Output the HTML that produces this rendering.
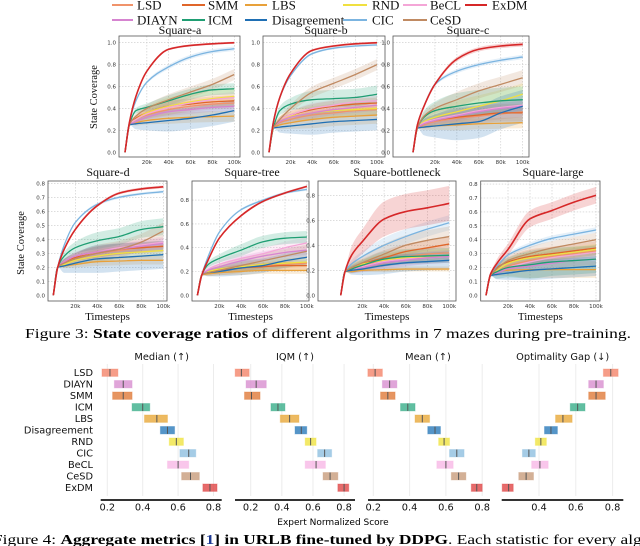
<!DOCTYPE html>
<html><head><meta charset="utf-8">
<style>
html,body{margin:0;padding:0;background:#fff;}
svg{display:block;}
.serif{font-family:'Liberation Serif','Times New Roman',Times,serif;}
.sans{font-family:'DejaVu Sans','Liberation Sans',sans-serif;}
</style></head>
<body>
<svg id="fig" width="640" height="546" viewBox="0 0 640 546" xmlns="http://www.w3.org/2000/svg">
<g id="legend"></g>
<g id="panels"></g>
<text class="serif" x="25" y="338" font-size="14" textLength="606" lengthAdjust="spacingAndGlyphs">Figure 3:  <tspan font-weight="bold">State coverage ratios</tspan> of different algorithms in 7 mazes during pre-training.</text>
<g id="agg"></g>
<text class="sans" x="333" y="525" font-size="9" text-anchor="middle">Expert Normalized Score</text>
<text class="serif" x="-7" y="544" font-size="14" textLength="668" lengthAdjust="spacingAndGlyphs">Figure 4:  <tspan font-weight="bold">Aggregate metrics [<tspan fill="#1f3a93">1</tspan>] in URLB fine-tuned by DDPG</tspan>. Each statistic for every algori</text>
</svg>
<script>
// ---------- data ----------
const seriesNames = ["LSD","SMM","LBS","RND","BeCL","DIAYN","ICM","Disagreement","CIC","CeSD","ExDM"];
const seriesColors = ["#f0936b","#e0662a","#e8a13a","#f0e040","#f4a6d7","#d684d0","#1f9e73","#1f6fb4","#7bb4e0","#c08a62","#d62728"];
const xSteps = [0,4,10,20,40,60,80,100];

const aLSD=[0,0.25,0.30,0.34,0.39,0.42,0.44,0.45], aSMM=[0,0.25,0.31,0.36,0.42,0.44,0.46,0.47], aLBS=[0,0.25,0.27,0.29,0.31,0.32,0.325,0.33], aRND=[0,0.25,0.30,0.36,0.42,0.46,0.49,0.51], aBeCL=[0,0.25,0.30,0.35,0.41,0.45,0.48,0.50], aDIAYN=[0,0.25,0.28,0.32,0.37,0.39,0.41,0.42], aICM=[0,0.25,0.38,0.41,0.47,0.53,0.57,0.58], aDis=[0,0.25,0.26,0.27,0.29,0.31,0.34,0.38], aCIC=[0,0.27,0.47,0.64,0.78,0.87,0.92,0.945], aCeSD=[0,0.25,0.33,0.40,0.48,0.55,0.62,0.71], aExDM=[0,0.27,0.51,0.74,0.94,0.975,0.99,1.0];
const aSpread=[0.05,0.05,0.05,0.08,0.05,0.04,0.05,0.1,0.02,0.05,0.01];

const bLSD=[0,0.22,0.27,0.30,0.34,0.36,0.38,0.39], bSMM=[0,0.22,0.30,0.34,0.39,0.42,0.44,0.45], bLBS=[0,0.22,0.25,0.27,0.30,0.32,0.33,0.34], bRND=[0,0.22,0.30,0.33,0.36,0.38,0.39,0.40], bBeCL=[0,0.22,0.30,0.34,0.40,0.43,0.46,0.47], bDIAYN=[0,0.22,0.28,0.32,0.36,0.39,0.41,0.43], bICM=[0,0.22,0.38,0.44,0.48,0.49,0.50,0.53], bDis=[0,0.22,0.23,0.24,0.26,0.28,0.29,0.30], bCIC=[0,0.28,0.50,0.70,0.90,0.95,0.97,0.98], bCeSD=[0,0.22,0.30,0.40,0.55,0.63,0.71,0.80], bExDM=[0,0.27,0.50,0.72,0.93,0.97,0.99,1.0];
const bSpread=[0.05,0.05,0.08,0.06,0.05,0.05,0.08,0.1,0.01,0.05,0.01];

const cLSD=[0,0.22,0.25,0.28,0.31,0.33,0.35,0.37], cSMM=[0,0.22,0.26,0.29,0.32,0.34,0.36,0.36], cLBS=[0,0.22,0.23,0.24,0.25,0.26,0.265,0.27], cRND=[0,0.22,0.28,0.32,0.37,0.42,0.47,0.53], cBeCL=[0,0.22,0.27,0.30,0.34,0.38,0.41,0.43], cDIAYN=[0,0.22,0.26,0.29,0.33,0.37,0.40,0.42], cICM=[0,0.22,0.32,0.38,0.42,0.45,0.47,0.48], cDis=[0,0.22,0.23,0.24,0.26,0.28,0.36,0.42], cCIC=[0,0.25,0.42,0.62,0.74,0.80,0.84,0.87], cCeSD=[0,0.22,0.33,0.40,0.48,0.56,0.62,0.68], cExDM=[0,0.25,0.42,0.62,0.85,0.94,0.97,0.985];
const cSpread=[0.05,0.08,0.05,0.1,0.05,0.05,0.12,0.15,0.02,0.07,0.02];

const dLSD=[0,0.2,0.23,0.26,0.30,0.32,0.34,0.35], dSMM=[0,0.2,0.24,0.27,0.31,0.33,0.34,0.35], dLBS=[0,0.2,0.21,0.22,0.24,0.245,0.25,0.25], dRND=[0,0.2,0.22,0.25,0.28,0.30,0.31,0.32], dBeCL=[0,0.2,0.24,0.28,0.31,0.34,0.36,0.38], dDIAYN=[0,0.2,0.24,0.28,0.31,0.33,0.35,0.37], dICM=[0,0.2,0.28,0.34,0.39,0.42,0.47,0.49], dDis=[0,0.2,0.21,0.23,0.26,0.27,0.28,0.29], dCIC=[0,0.2,0.36,0.52,0.65,0.70,0.725,0.74], dCeSD=[0,0.2,0.23,0.26,0.30,0.33,0.38,0.46], dExDM=[0,0.2,0.33,0.47,0.64,0.73,0.76,0.775];
const dSpread=[0.03,0.04,0.03,0.04,0.04,0.04,0.06,0.1,0.01,0.06,0.01];

const tLSD=[0,0.17,0.19,0.21,0.23,0.25,0.26,0.27], tSMM=[0,0.17,0.19,0.21,0.23,0.24,0.25,0.25], tLBS=[0,0.17,0.18,0.19,0.20,0.21,0.21,0.21], tRND=[0,0.17,0.20,0.22,0.24,0.26,0.27,0.28], tBeCL=[0,0.17,0.22,0.26,0.31,0.35,0.40,0.44], tDIAYN=[0,0.17,0.21,0.24,0.29,0.33,0.36,0.38], tICM=[0,0.17,0.26,0.31,0.38,0.45,0.48,0.49], tDis=[0,0.17,0.19,0.20,0.23,0.25,0.29,0.32], tCIC=[0,0.17,0.33,0.53,0.72,0.80,0.86,0.89], tCeSD=[0,0.17,0.19,0.21,0.25,0.29,0.33,0.37], tExDM=[0,0.17,0.30,0.48,0.67,0.79,0.86,0.915];
const tSpread=[0.03,0.03,0.03,0.04,0.05,0.04,0.05,0.06,0.01,0.06,0.01];

const nLSD=[0,0.19,0.21,0.24,0.28,0.31,0.33,0.34], nSMM=[0,0.19,0.22,0.25,0.30,0.35,0.38,0.41], nLBS=[0,0.19,0.19,0.20,0.205,0.21,0.21,0.21], nRND=[0,0.19,0.22,0.25,0.28,0.30,0.31,0.32], nBeCL=[0,0.19,0.21,0.23,0.27,0.29,0.30,0.31], nDIAYN=[0,0.19,0.20,0.22,0.26,0.28,0.30,0.31], nICM=[0,0.19,0.21,0.24,0.29,0.31,0.315,0.32], nDis=[0,0.19,0.20,0.21,0.24,0.26,0.27,0.28], nCIC=[0,0.19,0.25,0.31,0.40,0.47,0.53,0.58], nCeSD=[0,0.19,0.22,0.26,0.33,0.40,0.44,0.47], nExDM=[0,0.19,0.32,0.43,0.61,0.67,0.70,0.735];
const nSpread=[0.05,0.06,0.02,0.05,0.05,0.05,0.06,0.07,0.06,0.08,0.14];

const lLSD=[0,0.14,0.17,0.21,0.25,0.28,0.30,0.32], lSMM=[0,0.14,0.20,0.24,0.28,0.30,0.32,0.34], lLBS=[0,0.14,0.17,0.18,0.185,0.185,0.185,0.185], lRND=[0,0.14,0.18,0.23,0.27,0.29,0.31,0.33], lBeCL=[0,0.14,0.17,0.20,0.24,0.27,0.29,0.31], lDIAYN=[0,0.14,0.16,0.19,0.21,0.23,0.25,0.26], lICM=[0,0.14,0.17,0.20,0.22,0.24,0.25,0.26], lDis=[0,0.14,0.15,0.16,0.18,0.19,0.20,0.21], lCIC=[0,0.15,0.21,0.29,0.36,0.41,0.44,0.47], lCeSD=[0,0.14,0.19,0.25,0.30,0.34,0.37,0.40], lExDM=[0,0.15,0.23,0.33,0.55,0.61,0.67,0.72];
const lSpread=[0.04,0.05,0.06,0.04,0.04,0.04,0.1,0.07,0.02,0.05,0.06];

const xTickLabels = ["20k","40k","60k","80k","100k"];
const xTickValues = [20,40,60,80,100];

const algNames = ["LSD","DIAYN","SMM","ICM","LBS","Disagreement","RND","CIC","BeCL","CeSD","ExDM"];
const algColors = ["#f4846a","#d88fd0","#e07b39","#3aae8a","#e8a93a","#2b7bba","#f0e442","#8fbfe0","#f8b8e6","#c89c7c","#e04646"];
const medianLo=[0.17,0.24,0.23,0.34,0.41,0.50,0.55,0.61,0.54,0.62,0.74], medianMid=[0.215,0.29,0.29,0.40,0.48,0.54,0.59,0.66,0.60,0.67,0.78], medianHi=[0.26,0.34,0.34,0.44,0.54,0.58,0.63,0.70,0.66,0.72,0.82];
const iqmLo=[0.10,0.17,0.16,0.33,0.39,0.485,0.55,0.63,0.55,0.665,0.76], iqmMid=[0.14,0.235,0.205,0.375,0.45,0.525,0.585,0.675,0.62,0.71,0.80], iqmHi=[0.19,0.30,0.26,0.42,0.51,0.56,0.62,0.72,0.68,0.76,0.83];
const meanLo=[0.17,0.25,0.24,0.35,0.43,0.50,0.56,0.62,0.55,0.63,0.74], meanMid=[0.21,0.29,0.28,0.39,0.47,0.54,0.59,0.66,0.60,0.67,0.77], meanHi=[0.25,0.33,0.32,0.43,0.51,0.57,0.62,0.70,0.64,0.71,0.80];
const ogLo=[0.75,0.67,0.67,0.57,0.49,0.43,0.38,0.31,0.36,0.29,0.20], ogMid=[0.79,0.71,0.71,0.61,0.53,0.465,0.41,0.345,0.405,0.33,0.235], ogHi=[0.83,0.75,0.76,0.65,0.58,0.50,0.44,0.38,0.45,0.37,0.26];

// ---------- helpers ----------
const NS="http://www.w3.org/2000/svg";
function mk(tag, attrs, parent){const e=document.createElementNS(NS,tag);for(const k in attrs)e.setAttribute(k,attrs[k]);parent.appendChild(e);return e;}
function monoSeg(pts){
  const n=pts.length, dx=[], m=[], t=new Array(n);
  for(let i=0;i<n-1;i++){dx.push(pts[i+1][0]-pts[i][0]);m.push((pts[i+1][1]-pts[i][1])/dx[i]);}
  t[0]=m[0];t[n-1]=m[n-2];
  for(let i=1;i<n-1;i++){t[i]=(m[i-1]*m[i]<=0)?0:(dx[i-1]+dx[i])*3/((2*dx[i]+dx[i-1])/m[i-1]+(dx[i]+2*dx[i-1])/m[i]);}
  let d="";
  for(let i=0;i<n-1;i++){
    const h=dx[i]/3;
    d+=" C"+(pts[i][0]+h).toFixed(2)+","+(pts[i][1]+t[i]*h).toFixed(2)+" "+(pts[i+1][0]-h).toFixed(2)+","+(pts[i+1][1]-t[i+1]*h).toFixed(2)+" "+pts[i+1][0].toFixed(2)+","+pts[i+1][1].toFixed(2);
  }
  return d;
}
function monoPath(pts){return "M"+pts[0][0].toFixed(2)+","+pts[0][1].toFixed(2)+monoSeg(pts);}
function monoPathRev(pts){
  const neg=pts.map(p=>[-p[0],p[1]]);
  const seg=monoSeg(neg);
  return seg.replace(/(-?\d+\.?\d*),(-?\d+\.?\d*)/g,(s,a,b)=>(-parseFloat(a)).toFixed(2)+","+b);
}

// ---------- legend ----------
const legendRows=[["LSD","SMM","LBS","RND","BeCL","ExDM"],["DIAYN","ICM","Disagreement","CIC","CeSD"]];
const legendCols=[[112,133,137],[182,205,208],[245,267,272],[343,367,372],[403,427,430],[465,487,492]];
const lg=document.getElementById("legend");
legendRows.forEach((row,ri)=>{
  const y=ri===0?5:20;
  row.forEach((nm,ci)=>{
    const col=seriesColors[seriesNames.indexOf(nm)];
    const c=legendCols[ci];
    const g=mk("g",{},lg);
    
    
    mk("line",{x1:c[0],x2:c[1],y1:y,y2:y,stroke:col,"stroke-width":2},g);
    const t=mk("text",{x:c[2],y:y+4.5,"font-size":13,class:"serif",fill:"#111"},g);
    t.textContent=nm;
  });
});

// ---------- line panels ----------
const panels=[
 {name:"square-a",title:"Square-a",tx:180,ty:34,x0:125,x100:234.3,y0:152.3,ppu:109.6,fl:119,fr:240,ft:36,fb:157,yt:[0,0.2,0.4,0.6,0.8,1.0],ylab:true,xlab:false,data:[aLSD,aSMM,aLBS,aRND,aBeCL,aDIAYN,aICM,aDis,aCIC,aCeSD,aExDM],spread:aSpread,ylx:97,yly:97},
 {name:"square-b",title:"Square-b",tx:326,ty:34,x0:269,x100:377,y0:152.3,ppu:109.6,fl:263,fr:385,ft:36,fb:157,yt:[0,0.2,0.4,0.6,0.8,1.0],xlab:false,data:[bLSD,bSMM,bLBS,bRND,bBeCL,bDIAYN,bICM,bDis,bCIC,bCeSD,bExDM],spread:bSpread},
 {name:"square-c",title:"Square-c",tx:468,ty:34,x0:413,x100:522.7,y0:152.3,ppu:109.6,fl:393,fr:529,ft:36,fb:157,yt:[0,0.2,0.4,0.6,0.8,1.0],xlab:false,data:[cLSD,cSMM,cLBS,cRND,cBeCL,cDIAYN,cICM,cDis,cCIC,cCeSD,cExDM],spread:cSpread},
 {name:"square-d",title:"Square-d",tx:108,ty:176,x0:53.3,x100:163.3,y0:295.3,ppu:140,fl:48,fr:167,ft:181,fb:301,yt:[0,0.1,0.2,0.3,0.4,0.5,0.6,0.7,0.8],ylab:true,xlab:true,data:[dLSD,dSMM,dLBS,dRND,dBeCL,dDIAYN,dICM,dDis,dCIC,dCeSD,dExDM],spread:dSpread,ylx:24,yly:243},
 {name:"square-tree",title:"Square-tree",tx:252,ty:176,x0:197.4,x100:306.9,y0:295.3,ppu:119,fl:192,fr:309,ft:181,fb:301,yt:[0,0.2,0.4,0.6,0.8],xlab:true,data:[tLSD,tSMM,tLBS,tRND,tBeCL,tDIAYN,tICM,tDis,tCIC,tCeSD,tExDM],spread:tSpread},
 {name:"square-bottleneck",title:"Square-bottleneck",tx:397,ty:176,x0:340.7,x100:449.2,y0:295.3,ppu:125,fl:318,fr:456,ft:181,fb:301,yt:[0,0.2,0.4,0.6,0.8],xlab:true,data:[nLSD,nSMM,nLBS,nRND,nBeCL,nDIAYN,nICM,nDis,nCIC,nCeSD,nExDM],spread:nSpread},
 {name:"square-large",title:"Square-large",tx:553,ty:176,x0:486,x100:596,y0:295.3,ppu:139,fl:480.7,fr:600,ft:181,fb:301,yt:[0,0.1,0.2,0.3,0.4,0.5,0.6,0.7,0.8],xlab:true,data:[lLSD,lSMM,lLBS,lRND,lBeCL,lDIAYN,lICM,lDis,lCIC,lCeSD,lExDM],spread:lSpread}
];
const pg=document.getElementById("panels");
panels.forEach(p=>{
  const g=mk("g",{},pg);
  
  
  const sx=v=>p.x0+(p.x100-p.x0)*v/100;
  const sy=v=>p.y0-p.ppu*v;
  mk("rect",{x:p.fl,y:p.ft,width:p.fr-p.fl,height:p.fb-p.ft,fill:"#fff"},g);
  p.yt.forEach(v=>{
    if(v===0)return;
    mk("line",{x1:p.fl,x2:p.fr,y1:sy(v),y2:sy(v),stroke:"#c8c8c8","stroke-width":0.6,"stroke-dasharray":"1.5,1.5"},g);
  });
  xTickValues.forEach(v=>{
    mk("line",{x1:sx(v),x2:sx(v),y1:p.ft,y2:p.fb,stroke:"#c8c8c8","stroke-width":0.6,"stroke-dasharray":"1.5,1.5"},g);
  });
  p.data.forEach((arr,si)=>{
    const up=[],lo=[];
    arr.forEach((v,i)=>{const s=i<2?0:p.spread[si]*Math.min(1,xSteps[i]/50+0.3);up.push([sx(xSteps[i]),sy(v+s)]);lo.push([sx(xSteps[i]),sy(Math.max(0,v-s))]);});
    const d=monoPath(up)+" L"+lo[lo.length-1][0].toFixed(2)+","+lo[lo.length-1][1].toFixed(2)+monoPathRev(lo.slice().reverse())+" Z";
    const b=mk("path",{d:d,fill:seriesColors[si],"fill-opacity":0.2,stroke:"none"},g);
    
    
  });
  p.data.forEach((arr,si)=>{
    const pts=arr.map((v,i)=>[sx(xSteps[i]),sy(v)]);
    const l=mk("path",{d:monoPath(pts),fill:"none",stroke:seriesColors[si],"stroke-width":si===10?1.6:1.3},g);
    
    
  });
  mk("rect",{x:p.fl,y:p.ft,width:p.fr-p.fl,height:p.fb-p.ft,fill:"none",stroke:"#555","stroke-width":0.8},g);
  p.yt.forEach(v=>{
    const t=mk("text",{x:p.fl-3,y:sy(v)+2,"font-size":5.5,"text-anchor":"end",class:"sans",fill:"#333"},g);
    
    
    t.textContent=v.toFixed(1);
  });
  xTickValues.forEach((v,i)=>{
    const t=mk("text",{x:sx(v),y:p.fb+7,"font-size":5.5,"text-anchor":"middle",class:"sans",fill:"#333"},g);
    
    
    t.textContent=xTickLabels[i];
  });
  const tt=mk("text",{x:p.tx,y:p.ty,"font-size":12,"text-anchor":"middle",class:"serif",fill:"#111"},g);
  
  
  tt.textContent=p.title;
  if(p.xlab){
    const xl=mk("text",{x:(p.fl+p.fr)/2,y:320,"font-size":11,"text-anchor":"middle",class:"serif",fill:"#111"},g);
    
    
    xl.textContent="Timesteps";
  }
  if(p.ylab){
    const yl=mk("text",{x:p.ylx,y:p.yly,"font-size":10.5,"text-anchor":"middle",class:"serif",fill:"#111",transform:"rotate(-90 "+p.ylx+" "+p.yly+")"},g);
    
    
    yl.textContent="State Coverage";
  }
});

// ---------- aggregate metrics ----------
const metrics=[
 {name:"median",title:"Median (↑)",tx:161.7,zero:71.9,ppu:177,sl:100.7,sr:221.7,ticks:[0.2,0.4,0.6,0.8],lo:medianLo,mid:medianMid,hi:medianHi},
 {name:"iqm",title:"IQM (↑)",tx:295,zero:219.6,ppu:155.6,sl:235,sr:355,ticks:[0.2,0.4,0.6,0.8],lo:iqmLo,mid:iqmMid,hi:iqmHi},
 {name:"mean",title:"Mean (↑)",tx:428,zero:337,ppu:181.5,sl:368,sr:490,ticks:[0.2,0.4,0.6,0.8],lo:meanLo,mid:meanMid,hi:meanHi},
 {name:"optimality-gap",title:"Optimality Gap (↓)",tx:562.7,zero:465.4,ppu:184,sl:501.7,sr:623.3,ticks:[0.4,0.6,0.8],lo:ogLo,mid:ogMid,hi:ogHi}
];
const ag=document.getElementById("agg");
const rowY=i=>372.7+i*11.5;
algNames.forEach((nm,i)=>{
  const t=mk("text",{x:93,y:rowY(i)+3.5,"font-size":9.8,"text-anchor":"end",class:"sans",fill:"#111"},ag);
  
  
  t.textContent=nm;
});
metrics.forEach(m=>{
  const g=mk("g",{},ag);
  
  
  const sx=v=>m.zero+m.ppu*v;
  m.ticks.forEach(v=>{
    mk("line",{x1:sx(v),x2:sx(v),y1:364,y2:496,stroke:"#ececec","stroke-width":1},g);
    const t=mk("text",{x:sx(v),y:510.5,"font-size":9.8,"text-anchor":"middle",class:"sans",fill:"#111"},g);
    
    
    t.textContent=v.toFixed(1);
  });
  algNames.forEach((nm,i)=>{
    const x1=sx(m.lo[i]),x2=sx(m.hi[i]),y=rowY(i);
    const r=mk("rect",{x:x1,y:y-3.7,width:x2-x1,height:7.4,fill:algColors[i],"fill-opacity":0.8,stroke:algColors[i],"stroke-opacity":0.35,"stroke-width":1},g);
    
    
    const l=mk("line",{x1:sx(m.mid[i]),x2:sx(m.mid[i]),y1:y-3.7,y2:y+3.7,stroke:"#555","stroke-width":1},g);
    
    
  });
  mk("line",{x1:m.sl,x2:m.sr,y1:500,y2:500,stroke:"#333","stroke-width":2},g);
  const tt=mk("text",{x:m.tx,y:360,"font-size":9.8,"text-anchor":"middle",class:"sans",fill:"#111"},g);
  
  
  tt.textContent=m.title;
});
</script>
</body></html>
